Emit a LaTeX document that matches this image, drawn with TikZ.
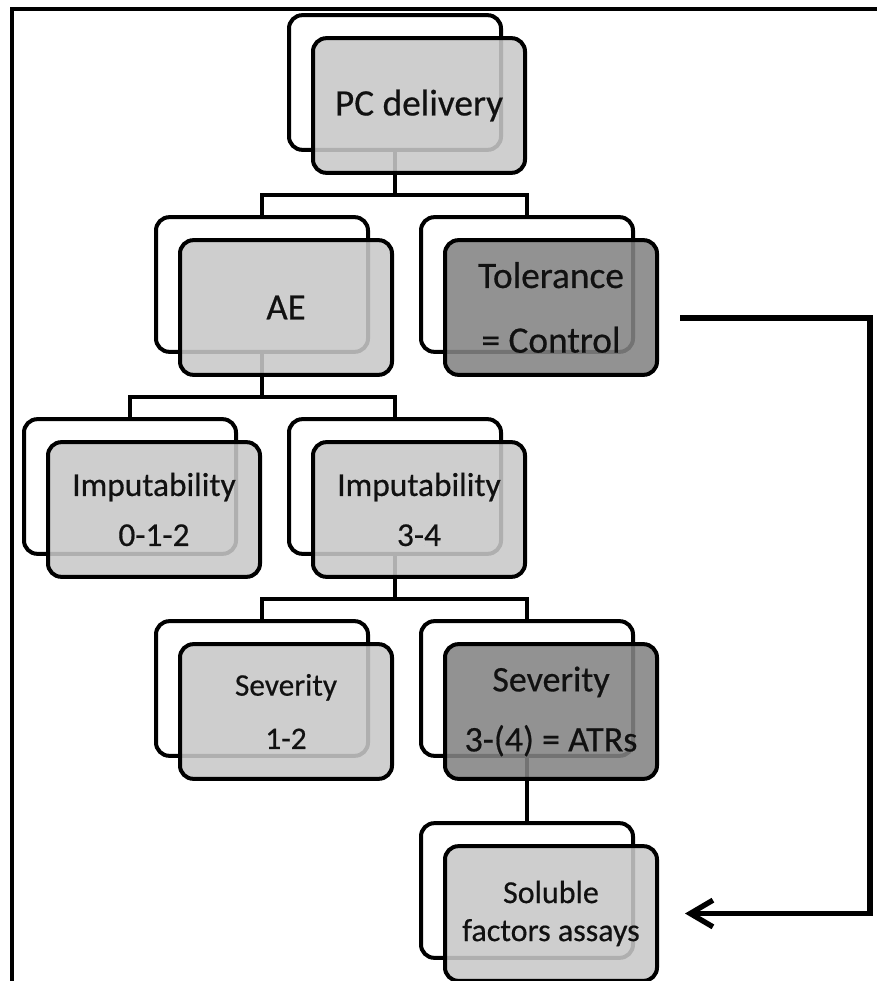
\documentclass[tikz,border=0pt]{standalone}
\usepackage{fontspec}
\setmainfont{Carlito}[FakeBold=0.5]
\usetikzlibrary{arrows.meta,calc}
\definecolor{lightfill}{HTML}{C8C8C8}
\definecolor{darkfill}{HTML}{838383}
\definecolor{txt}{HTML}{111111}
\begin{document}
\begin{tikzpicture}[x=0.75pt,y=-0.75pt,
  backbox/.style={rectangle, draw=black, line width=3pt, fill=white,
    rounded corners=10pt, minimum width=159pt, minimum height=101pt,
    inner sep=0pt, align=center, text=txt},
  frontbox/.style={backbox, fill=lightfill, fill opacity=0.88, text opacity=1},
  darkbox/.style={frontbox, fill=darkfill},
  conn/.style={draw=black, line width=3pt},
  arrowline/.style={draw=black, line width=4pt,
    -{Straight Barb[length=17pt,width=20pt,line width=4pt]}},
  frame/.style={draw=black, line width=3pt}
]
\useasboundingbox (0,0) rectangle (876,981);

% outer frame
\coordinate (fr1) at (12,990);
\coordinate (fr2) at (12,9);
\coordinate (fr3) at (885,9);
\draw[frame] (fr1) -- (fr2) -- (fr3);

% back boxes
\node[backbox] (bPC)  at (395,82.5)  {};
\node[backbox] (bAE)  at (262,284.5) {};
\node[backbox] (bTol) at (527,284.5) {};
\node[backbox] (bImA) at (130,486.5) {};
\node[backbox] (bImB) at (395,486.5) {};
\node[backbox] (bSvA) at (262,688.5) {};
\node[backbox] (bSvB) at (527,688.5) {};
\node[backbox] (bSol) at (527,890.5) {};

% connectors
\draw[conn] (bPC.south) -- ++(0,43) -| (bAE.north);
\draw[conn] (bPC.south) -- ++(0,43) -| (bTol.north);
\draw[conn] (bAE.south) -- ++(0,43) -| (bImA.north);
\draw[conn] (bAE.south) -- ++(0,43) -| (bImB.north);
\draw[conn] (bImB.south) -- ++(0,43) -| (bSvA.north);
\draw[conn] (bImB.south) -- ++(0,43) -| (bSvB.north);
\draw[conn] (bSvB.south) -- (bSol.north);

% front boxes
\node[frontbox, font=\fontsize{28}{34}\selectfont] (fPC) at (419,105.5) {PC delivery};
\node[frontbox, font=\fontsize{27.5}{34}\selectfont] (fAE) at (286,307.5) {AE};
\node[darkbox, font=\fontsize{28}{48.5}\selectfont] (fTol) at (551,307.5) {Tolerance\\= Control};
\node[frontbox, font=\fontsize{25}{37.5}\selectfont] (fImA) at (154,509.5) {Imputability\\0-1-2};
\node[frontbox, font=\fontsize{25}{37.5}\selectfont] (fImB) at (419,509.5) {Imputability\\3-4};
\node[frontbox, font=\fontsize{23.5}{40}\selectfont] (fSvA) at (286,711.5) {Severity\\1-2};
\node[darkbox, font=\fontsize{27}{45}\selectfont] (fSvB) at (551,711.5) {Severity\\3-(4) = ATRs};
\node[frontbox, font=\fontsize{24}{28.5}\selectfont] (fSol) at (551,913.5) {Soluble\\factors assays};

% feedback arrow
\coordinate (arrS) at ($(fTol.east)+(21,10.5)$);
\coordinate (arrE) at ($(fSol.east)+(26,0)$);
\draw[arrowline] (arrS) -- ++(190,0) |- (arrE);
\end{tikzpicture}
\end{document}
